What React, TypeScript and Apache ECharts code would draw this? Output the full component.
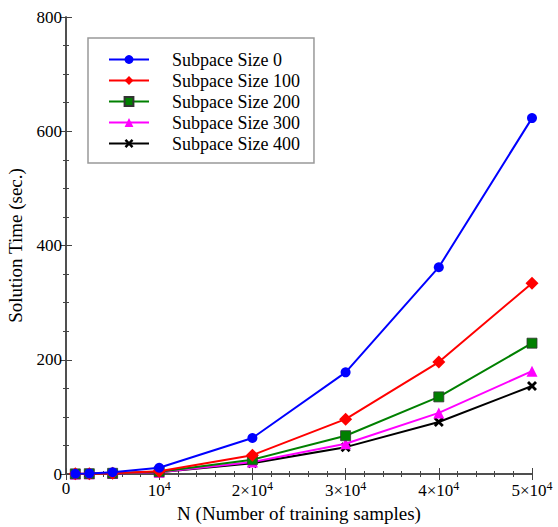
import React, { useEffect, useRef } from "react";
import * as echarts from "echarts";

const xValues = [1000, 2500, 5000, 10000, 20000, 30000, 40000, 50000];
const seriesNames = ["Subpace Size 0", "Subpace Size 100", "Subpace Size 200", "Subpace Size 300", "Subpace Size 400"];
const size0 = [0.5, 1, 3, 11, 63, 178, 362, 623];
const size100 = [0.3, 0.6, 1.5, 5, 33, 96, 196, 334];
const size200 = [0.2, 0.5, 1.2, 4, 25, 67, 135, 229];
const size300 = [0.2, 0.4, 1, 3, 21, 53, 107, 180];
const size400 = [0.2, 0.4, 1, 3, 19, 47, 91, 154];
const colors = ["#0000ff", "#ff0000", "#008000", "#ff00ff", "#000000"];
const xTickLabels: Record<number, string> = {
  0: "0",
  10000: "10{sup|4}",
  20000: "2×10{sup|4}",
  30000: "3×10{sup|4}",
  40000: "4×10{sup|4}",
  50000: "5×10{sup|4}",
};

const crossPath =
  "path://M2,0 L5,3 L8,0 L10,2 L7,5 L10,8 L8,10 L5,7 L2,10 L0,8 L3,5 L0,2 Z";

export default function App() {
  const ref = useRef<HTMLDivElement>(null);
  useEffect(() => {
    if (!ref.current) return;
    const chart = echarts.init(ref.current, undefined, { renderer: "svg" });
    const font = "'Liberation Serif', 'DejaVu Serif', serif";
    const axisLine = { lineStyle: { color: "#444", width: 1.5 } };
    const allData = [size0, size100, size200, size300, size400];
    const symbols = ["circle", "diamond", "rect", "triangle", crossPath];
    const symbolSizes = [10, 13, 10, 11, 10];
    chart.setOption({
      animation: false,
      backgroundColor: "#fff",
      textStyle: { fontFamily: font },
      grid: { left: 66, right: 26, top: 17, bottom: 53, outerBoundsMode: "none", containLabel: false },
      legend: {
        left: 88,
        top: 38,
        orient: "vertical",
        data: seriesNames,
        itemWidth: 40,
        itemHeight: 11,
        itemGap: 0,
        borderColor: "#999",
        borderWidth: 1.5,
        padding: [11, 14, 9, 20],
        textStyle: { fontFamily: font, fontSize: 18, color: "#000", padding: [0, 0, 0, 18], lineHeight: 21 },
      },
      xAxis: [
        {
          type: "value",
          min: 0,
          max: 50000,
          interval: 10000,
          name: "N (Number of training samples)",
          nameLocation: "middle",
          nameGap: 29,
          nameTextStyle: { fontFamily: font, fontSize: 19, color: "#000" },
          axisLine,
          axisTick: { inside: true, length: 6, lineStyle: { color: "#444" } },
          minorTick: { show: true, splitNumber: 5, length: 3, lineStyle: { color: "#444" } },
          splitLine: { show: false },
          axisLabel: {
            fontFamily: font,
            fontSize: 17,
            color: "#000",
            margin: 6,
            formatter: (v: number) => xTickLabels[v] ?? String(v),
            rich: { sup: { fontFamily: font, fontSize: 12, color: "#000", padding: [0, 0, 9, 0] } },
          },
        },
        {
          type: "value",
          position: "top",
          min: 0,
          max: 50000,
          interval: 10000,
          axisLine,
          axisTick: { inside: true, length: 6, lineStyle: { color: "#444" } },
          minorTick: { show: true, splitNumber: 5, length: 3, lineStyle: { color: "#444" } },
          splitLine: { show: false },
          axisLabel: { show: false },
        },
      ],
      yAxis: [
        {
          type: "value",
          min: 0,
          max: 800,
          interval: 200,
          name: "Solution Time (sec.)",
          nameLocation: "middle",
          nameGap: 41,
          nameTextStyle: { fontFamily: font, fontSize: 19, color: "#000" },
          axisLine: { show: true, ...axisLine },
          axisTick: { show: true, inside: true, length: 6, lineStyle: { color: "#444" } },
          minorTick: { show: true, splitNumber: 4, length: 3, lineStyle: { color: "#444" } },
          splitLine: { show: false },
          axisLabel: { fontFamily: font, fontSize: 17, color: "#000", margin: 4 },
        },
        {
          type: "value",
          position: "right",
          min: 0,
          max: 800,
          interval: 200,
          axisLine: { show: true, ...axisLine },
          axisTick: { show: true, inside: true, length: 6, lineStyle: { color: "#444" } },
          minorTick: { show: true, splitNumber: 4, length: 3, lineStyle: { color: "#444" } },
          splitLine: { show: false },
          axisLabel: { show: false },
        },
      ],
      series: seriesNames.map((name, i) => ({
        name,
        type: "line",
        data: xValues.map((x, j) => [x, allData[i][j]]),
        symbol: symbols[i],
        symbolSize: symbolSizes[i],
        showAllSymbol: true,
        lineStyle: { color: colors[i], width: 2 },
        itemStyle: { color: colors[i], borderColor: i === 2 ? "#333" : colors[i], borderWidth: i === 2 ? 0.8 : 0 },
        z: 10 - i,
      })),
    });
    return () => chart.dispose();
  }, []);
  return <div ref={ref} style={{ position: "fixed", left: 0, top: 0, width: 558, height: 527 }} />;
}
